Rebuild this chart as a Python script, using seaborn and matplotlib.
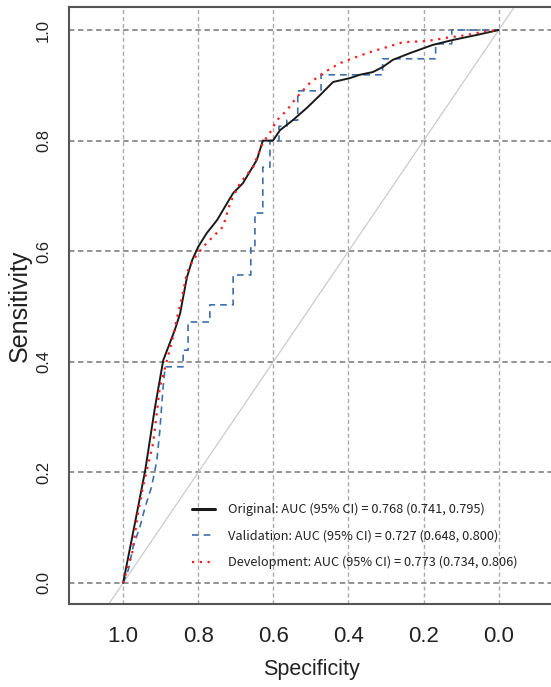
import matplotlib
matplotlib.use("Agg")
import matplotlib.pyplot as plt
import seaborn as sns

# ROC coordinates (specificity, sensitivity)
orig_spec = [1.0, 0.981, 0.963, 0.941, 0.915, 0.893, 0.862, 0.848, 0.840, 0.830, 0.816,
             0.800, 0.777, 0.750, 0.723, 0.707, 0.681, 0.644, 0.628, 0.601, 0.582, 0.548,
             0.511, 0.476, 0.441, 0.396, 0.370, 0.335, 0.309, 0.282, 0.237, 0.176, 0.122,
             0.059, 0.0]
orig_sens = [0.0, 0.065, 0.127, 0.204, 0.318, 0.403, 0.458, 0.488, 0.517, 0.553, 0.584,
             0.608, 0.633, 0.656, 0.687, 0.705, 0.723, 0.765, 0.800, 0.800, 0.819, 0.837,
             0.859, 0.882, 0.906, 0.913, 0.919, 0.924, 0.933, 0.946, 0.958, 0.973, 0.982,
             0.991, 1.0]

val_spec = [1.0, 0.986, 0.973, 0.955, 0.941, 0.924, 0.910, 0.902, 0.894, 0.888, 0.840,
            0.840, 0.827, 0.827, 0.769, 0.769, 0.707, 0.707, 0.660, 0.660, 0.649, 0.649,
            0.628, 0.628, 0.609, 0.609, 0.585, 0.585, 0.564, 0.564, 0.535, 0.535, 0.473,
            0.473, 0.309, 0.309, 0.168, 0.168, 0.125, 0.125, 0.0]
val_sens = [0.0, 0.024, 0.066, 0.102, 0.138, 0.174, 0.222, 0.277, 0.350, 0.391, 0.391,
            0.421, 0.421, 0.472, 0.472, 0.503, 0.503, 0.557, 0.557, 0.608, 0.608, 0.669,
            0.669, 0.752, 0.752, 0.800, 0.800, 0.826, 0.826, 0.837, 0.837, 0.890, 0.890,
            0.919, 0.919, 0.948, 0.948, 0.975, 0.975, 1.0, 1.0]

dev_spec = [1.0, 0.976, 0.960, 0.947, 0.920, 0.902, 0.867, 0.856, 0.843, 0.830, 0.814,
            0.787, 0.761, 0.734, 0.715, 0.689, 0.654, 0.628, 0.609, 0.590, 0.564, 0.537,
            0.503, 0.468, 0.423, 0.388, 0.343, 0.298, 0.255, 0.191, 0.138, 0.085, 0.032,
            0.0]
dev_sens = [0.0, 0.054, 0.127, 0.174, 0.253, 0.354, 0.445, 0.481, 0.517, 0.561, 0.584,
            0.608, 0.626, 0.644, 0.687, 0.723, 0.752, 0.796, 0.814, 0.837, 0.855, 0.879,
            0.904, 0.922, 0.940, 0.949, 0.960, 0.969, 0.978, 0.980, 0.986, 0.991, 0.998,
            1.0]

labels = ["Original: AUC (95% CI) = 0.768 (0.741, 0.795)",
          "Validation: AUC (95% CI) = 0.727 (0.648, 0.800)",
          "Development: AUC (95% CI) = 0.773 (0.734, 0.806)"]
ticks = [0.0, 0.2, 0.4, 0.6, 0.8, 1.0]
tick_labels = ["0.0", "0.2", "0.4", "0.6", "0.8", "1.0"]

sns.set_style("white")
plt.rcParams["font.family"] = ["Liberation Sans", "DejaVu Sans"]

fig = plt.figure(figsize=(5.51, 6.87), dpi=100)
ax = fig.add_axes([0.1252, 0.1208, 0.889, 0.869])

# grid like R's grid()
ax.xaxis.grid(True, color="#ababab", ls=(0, (3, 2)), lw=1.0)
ax.yaxis.grid(True, color="#8a8a8a", ls=(0, (3, 2)), lw=1.3)
ax.set_axisbelow(True)

# chance line
ax.axline((1, 0), (0, 1), color="#cccccc", lw=0.9, zorder=1)

sns.lineplot(x=orig_spec, y=orig_sens, sort=False, estimator=None, ax=ax,
             color="#1a1a1a", lw=1.4, label=labels[0], zorder=3)
sns.lineplot(x=val_spec, y=val_sens, sort=False, estimator=None, ax=ax,
             color="#3d6fae", lw=1.2, linestyle=(0, (4, 3)), label=labels[1], zorder=2)
sns.lineplot(x=dev_spec, y=dev_sens, sort=False, estimator=None, ax=ax,
             color="#ff1a1a", lw=1.6, linestyle=(0, (1, 2.5)), label=labels[2], zorder=4)

ax.set_xlim(1.144, -0.16)
ax.set_ylim(-0.038, 1.0416)

ax.set_xticks(ticks)
ax.set_xticklabels(tick_labels, fontsize=16)
ax.set_yticks(ticks)
ax.set_yticklabels(tick_labels, fontsize=12, rotation=90, va="center")
ax.tick_params(axis="x", length=7, width=1, color="#555555", pad=9, labelcolor="#222222")
ax.tick_params(axis="y", length=5, width=1, color="#555555", pad=8, labelcolor="#222222")

for s in ["left", "bottom", "top", "right"]:
    ax.spines[s].set_color("#555555")
    ax.spines[s].set_linewidth(1.5)

ax.set_xlabel("Specificity", fontsize=15.5, color="#222222")
ax.xaxis.set_label_coords(0.494, -0.092)
ax.set_ylabel("Sensitivity", fontsize=18, color="#222222")
ax.yaxis.set_label_coords(-0.0755, 0.5)

leg = ax.legend(loc="center left", bbox_to_anchor=(0.251, 0.114), frameon=False,
                borderpad=0, borderaxespad=0, handlelength=1.8, handletextpad=1.0,
                labelspacing=1.05, prop={"family": ["Noto Sans CJK JP", "DejaVu Sans"], "size": 9.2})
leg.get_lines()[0].set_linewidth(2.2)
for t in leg.get_texts():
    t.set_color("#222222")

fig.savefig("out.png", dpi=100)
